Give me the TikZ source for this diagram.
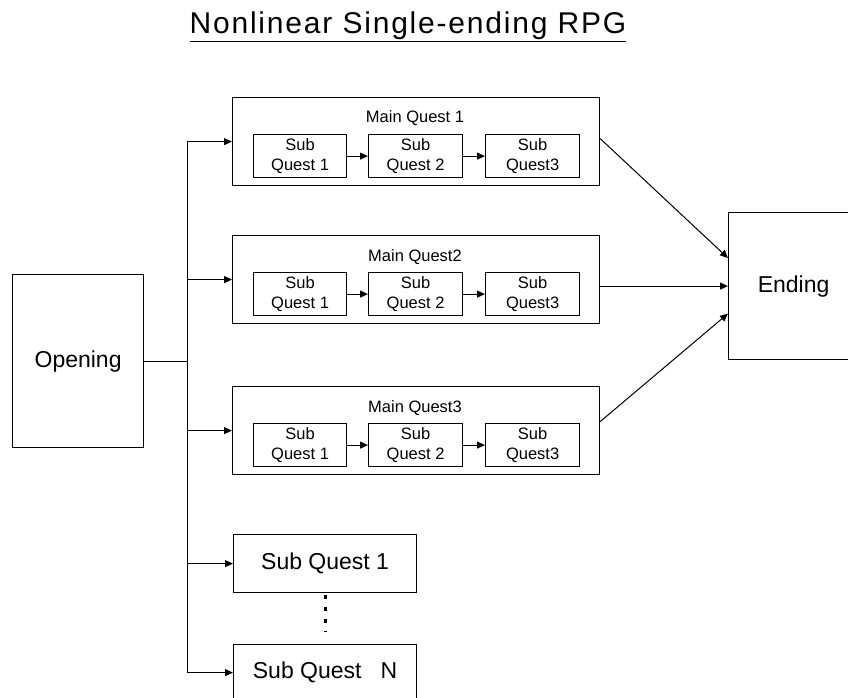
\documentclass[tikz,border=0pt]{standalone}
\usepackage{fontspec}
\setmainfont{Liberation Sans}
\newfontfamily\titlefont[LetterSpace=6]{Liberation Sans}
\usetikzlibrary{arrows.meta}
\begin{document}
\begin{tikzpicture}[x=1pt,y=-1pt,
  box/.style={draw,line width=1.2pt,inner sep=0pt,anchor=north west},
  conn/.style={line width=1pt},
  arr/.style={line width=1pt,-{Triangle[length=8pt,width=7pt]}},
  big/.style={font=\fontsize{23}{27}\selectfont},
  small/.style={font=\fontsize{16.5}{20}\selectfont, align=center},
]
\useasboundingbox[fill=white] (0,0) rectangle (848,698);

\node[font=\titlefont\fontsize{30}{36}\selectfont, anchor=base, inner sep=0pt] (title) at (408,34) {\underline{Nonlinear Single-ending RPG}};

\node[box, big, minimum width=131pt, minimum height=173pt] (open) at (12,274) {Opening};
\node[box, big, minimum width=130pt, minimum height=147pt] (end) at (728,212) {Ending};

\foreach \i/\t/\lab in {1/97/Main Quest 1, 2/235/Main Quest2, 3/386/Main Quest3}{
  \node[box, minimum width=367pt, minimum height=88pt] (mq\i) at (232,\t) {};
  \node[small, anchor=base, inner sep=0pt] (mq\i t) at (415,\t+26) {\lab};
  \node[box, small, minimum width=93pt, minimum height=43pt] (s\i a) at (253,\t+37) {Sub\\Quest 1};
  \node[box, small, minimum width=94pt, minimum height=43pt] (s\i b) at (368,\t+37) {Sub\\Quest 2};
  \node[box, small, minimum width=94pt, minimum height=43pt] (s\i c) at (485,\t+37) {Sub\\Quest3};
  \draw[arr] (s\i a) -- (s\i b);
  \draw[arr] (s\i b) -- (s\i c);
}

\node[box, big, minimum width=183pt, minimum height=58pt] (sq1) at (233,534) {Sub Quest 1};
\node[box, big, minimum width=183pt, minimum height=56pt] (sqn) at (233,644) {Sub Quest\ \ \ N};

\coordinate (trunk) at (187,358);
\draw[conn] (open.east) -- (trunk |- open.east);
\draw[conn] (trunk |- mq1.west) -- (trunk |- sqn.west);
\foreach \n in {mq1,mq2,mq3,sq1,sqn}
  \draw[arr] (trunk |- \n.west) -- (\n.west);

\draw[arr] ([yshift=3pt]mq1.east) -- ([yshift=28pt]end.west);
\draw[arr] (mq2.east |- end.west) -- (end.west);
\draw[arr] ([yshift=9pt]mq3.east) -- ([yshift=-27.5pt]end.west);

\draw[line width=3pt, dash pattern=on 4pt off 8pt] ([yshift=-2pt]sq1.south) -- ([yshift=12pt]sqn.north);
\end{tikzpicture}
\end{document}
